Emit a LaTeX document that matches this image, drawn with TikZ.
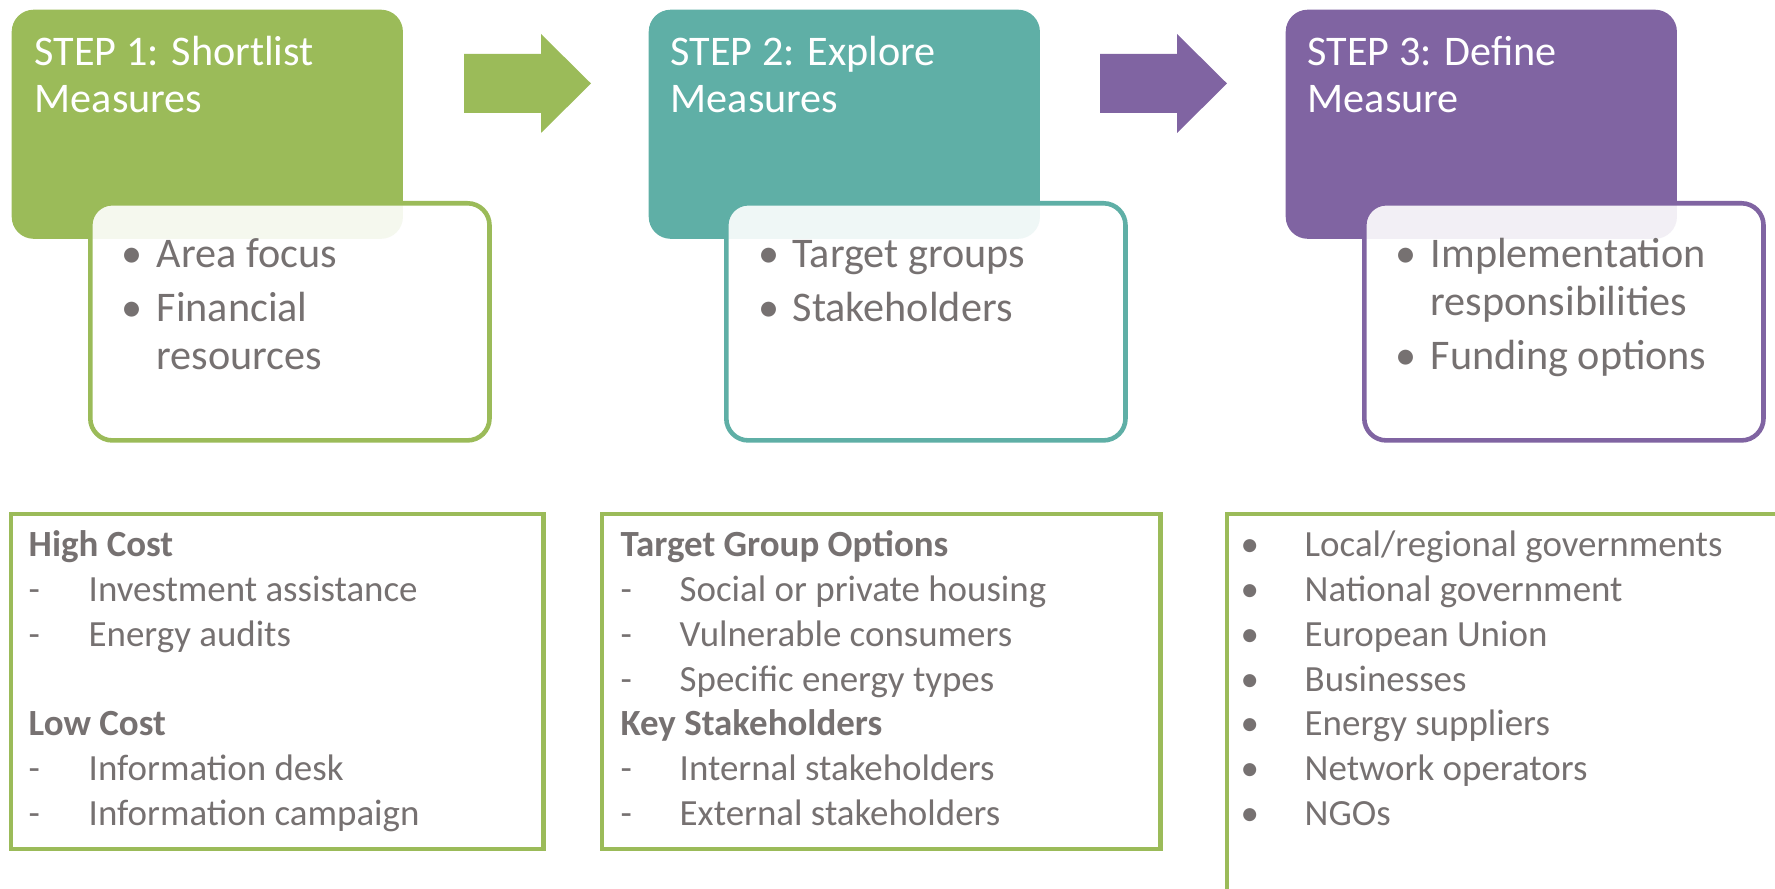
\documentclass[tikz,border=0pt]{standalone}
\usepackage{fontspec}
\setmainfont{Carlito}
\usetikzlibrary{positioning}
\definecolor{stepgreen}{HTML}{9BBB59}
\definecolor{stepteal}{HTML}{5FAFA6}
\definecolor{steppurple}{HTML}{8064A2}
\definecolor{textgray}{HTML}{767171}

\begin{document}
\begin{tikzpicture}[x=0.01cm, y=-0.01cm,
    stepbox/.style={fill=#1, rounded corners=0.22cm, anchor=north west, inner sep=0pt,
      minimum width=3.91cm, minimum height=2.29cm},
    detailbox/.style={draw=#1, line width=1.3pt, fill=white, fill opacity=0.9,
      rounded corners=0.22cm, anchor=north west, inner sep=0pt,
      minimum width=3.99cm, minimum height=2.37cm},
    listbox/.style={draw=stepgreen, line width=1.2pt, anchor=north west, inner sep=0pt,
      minimum height=3.35cm},
    title/.style={anchor=base west, inner sep=0pt, text=white, font=\fontsize{12}{14}\selectfont},
    point/.style={anchor=base west, inner sep=0pt, text=textgray, font=\fontsize{12}{14}\selectfont},
    entry/.style={anchor=base west, inner sep=0pt, text=textgray, font=\fontsize{10.5}{12}\selectfont},
    head/.style={entry, font=\fontsize{10.5}{12}\selectfont\bfseries}]

  \useasboundingbox (0,0) rectangle (1775,889);
  \clip (0,0) rectangle (1775,889);

  % steps
  \node[stepbox=stepgreen] (s1) at (11,9) {};
  \node[detailbox=stepgreen] (d1) at (88,201) {};
  \node[stepbox=stepteal] (s2) at (648,9) {};
  \node[detailbox=stepteal] (d2) at (724,201) {};
  \node[stepbox=steppurple] (s3) at (1285,9) {};
  \node[detailbox=steppurple] (d3) at (1362,201) {};

  % arrows between the steps
  \foreach \ax/\col in {464/stepgreen, 1100/steppurple}
    \fill[\col] (\ax,54) -- ++(77,0) -- ++(0,-20) -- ++(50,49.5) -- ++(-50,49.5)
      -- ++(0,-20) -- ++(-77,0) -- cycle;

  \node[title] (t1a) at (34,66) {STEP 1: Shortlist};
  \node[title] (t1b) at (34,113) {Measures};
  \node[title] (t2a) at (670,66) {STEP 2: Explore};
  \node[title] (t2b) at (670,113) {Measures};
  \node[title] (t3a) at (1307,66) {STEP 3: Define};
  \node[title] (t3b) at (1307,113) {Measure};

  \node[point] (p1a) at (121,268) {\textbullet};
  \node[point] (p1b) at (121,322) {\textbullet};
  \node[point] (q1a) at (156,268) {Area focus};
  \node[point] (q1b) at (156,322) {Financial};
  \node[point] (q1c) at (156,370) {resources};

  \node[point] (p2a) at (758,268) {\textbullet};
  \node[point] (p2b) at (758,322) {\textbullet};
  \node[point] (q2a) at (792,268) {Target groups};
  \node[point] (q2b) at (792,322) {Stakeholders};

  \node[point] (p3a) at (1395,268) {\textbullet};
  \node[point] (p3b) at (1395,370) {\textbullet};
  \node[point] (q3a) at (1430,268) {Implementation};
  \node[point] (q3b) at (1430,316) {responsibilities};
  \node[point] (q3c) at (1430,370) {Funding options};

  % lists below
  \node[listbox, minimum width=5.32cm] (l1) at (9,512) {};
  \node[listbox, minimum width=5.58cm] (l2) at (600,512) {};
  \node[listbox, minimum width=6cm, minimum height=4cm] (l3) at (1225,512) {};

  \node[head] (h1a) at (28,557) {High Cost};
  \foreach \txt [count=\i] in {Investment assistance, Energy audits} {
    \node[entry] (m1a\i) at (28,557+44.7*\i) {-};
    \node[entry] (e1a\i) at (88,557+44.7*\i) {\txt};
  }
  \node[head] (h1b) at (28,736) {Low Cost};
  \foreach \txt [count=\i] in {Information desk, Information campaign} {
    \node[entry] (m1b\i) at (28,736+44.7*\i) {-};
    \node[entry] (e1b\i) at (88,736+44.7*\i) {\txt};
  }

  \node[head] (h2a) at (620,557) {Target Group Options};
  \foreach \txt [count=\i] in {Social or private housing, Vulnerable consumers, Specific energy types} {
    \node[entry] (m2a\i) at (620,557+44.7*\i) {-};
    \node[entry] (e2a\i) at (679,557+44.7*\i) {\txt};
  }
  \node[head] (h2b) at (620,736) {Key Stakeholders};
  \foreach \txt [count=\i] in {Internal stakeholders, External stakeholders} {
    \node[entry] (m2b\i) at (620,736+44.7*\i) {-};
    \node[entry] (e2b\i) at (679,736+44.7*\i) {\txt};
  }

  \foreach \txt [count=\i from 0] in {Local/regional governments, National government, European Union,
      Businesses, Energy suppliers, Network operators, NGOs} {
    \node[entry] (m3\i) at (1240,557+44.7*\i) {\textbullet};
    \node[entry] (e3\i) at (1304,557+44.7*\i) {\txt};
  }
\end{tikzpicture}
\end{document}
